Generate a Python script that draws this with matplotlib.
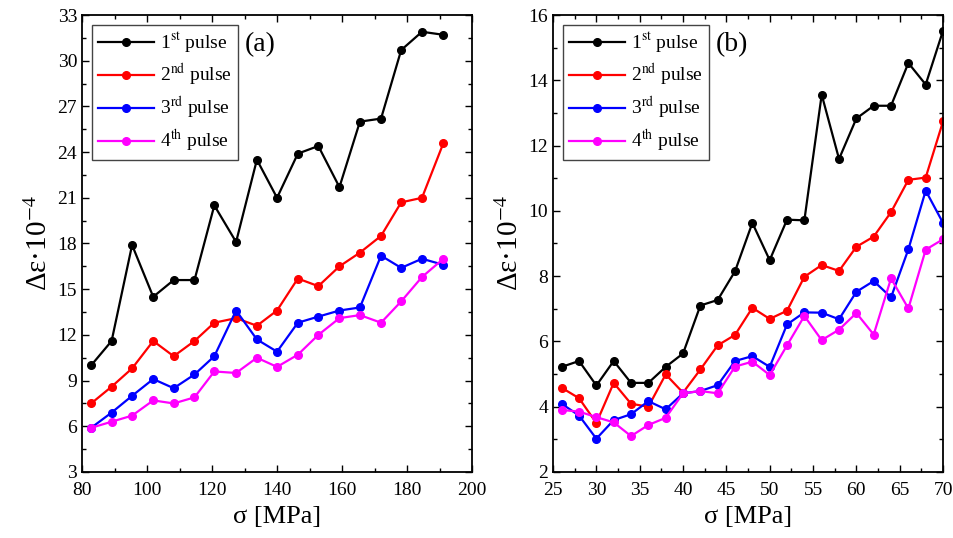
import matplotlib
matplotlib.use('Agg')
import matplotlib.pyplot as plt
from matplotlib.ticker import MultipleLocator
from matplotlib import rcParams

rcParams['font.family'] = 'Liberation Serif'
rcParams['mathtext.fontset'] = 'stix'
rcParams['font.size'] = 14

# panel (a)
sigma_a = [82.8, 89.1, 95.4, 101.9, 108.2, 114.6, 120.7, 127.4, 133.8, 140.0,
           146.4, 152.7, 159.2, 165.5, 172.0, 178.2, 184.6, 191.2]
p1_a = [10.0, 11.6, 17.9, 14.5, 15.6, 15.6, 20.5, 18.1, 23.5, 21.0,
        23.9, 24.4, 21.7, 26.0, 26.2, 30.7, 31.9, 31.7]
p2_a = [7.5, 8.6, 9.8, 11.6, 10.6, 11.6, 12.8, 13.1, 12.6, 13.6,
        15.7, 15.2, 16.5, 17.4, 18.5, 20.7, 21.0, 24.6]
p3_a = [5.9, 6.9, 8.0, 9.1, 8.5, 9.4, 10.6, 13.6, 11.7, 10.9,
        12.8, 13.2, 13.6, 13.8, 17.2, 16.4, 17.0, 16.6]
p4_a = [5.9, 6.3, 6.7, 7.7, 7.5, 7.9, 9.6, 9.5, 10.5, 9.9,
        10.7, 12.0, 13.1, 13.3, 12.8, 14.2, 15.8, 17.0]

# panel (b)
sigma_b = [26, 28, 30, 32, 34, 36, 38, 40, 42, 44, 46, 48,
           50, 52, 54, 56, 58, 60, 62, 64, 66, 68, 70]
p1_b = [5.22, 5.4, 4.65, 5.4, 4.73, 4.73, 5.22, 5.63, 7.1, 7.27, 8.15, 9.63,
        8.49, 9.73, 9.71, 13.56, 11.59, 12.83, 13.22, 13.22, 14.53, 13.87, 15.52]
p2_b = [4.58, 4.26, 3.5, 4.73, 4.09, 4.0, 4.99, 4.43, 5.14, 5.88, 6.2, 7.03,
        6.69, 6.94, 7.98, 8.34, 8.16, 8.9, 9.21, 9.96, 10.95, 11.02, 12.74]
p3_b = [4.09, 3.73, 3.02, 3.59, 3.77, 4.17, 3.92, 4.41, 4.48, 4.66, 5.4, 5.55,
        5.22, 6.52, 6.89, 6.88, 6.68, 7.52, 7.85, 7.35, 8.82, 10.62, 9.63]
p4_b = [3.9, 3.85, 3.68, 3.52, 3.1, 3.44, 3.66, 4.41, 4.48, 4.41, 5.23, 5.38,
        4.97, 5.88, 6.78, 6.04, 6.36, 6.87, 6.21, 7.93, 7.01, 8.81, 9.13]

labels = [r'1$^{\mathrm{st}}$ pulse', r'2$^{\mathrm{nd}}$ pulse',
          r'3$^{\mathrm{rd}}$ pulse', r'4$^{\mathrm{th}}$ pulse']
colors = ['black', 'red', 'blue', 'magenta']

fig = plt.figure(figsize=(9.54, 5.38), dpi=100)
ax1 = fig.add_axes([0.086, 0.1227, 0.4088, 0.8494])
ax2 = fig.add_axes([0.5797, 0.1227, 0.4088, 0.8494])

panels = [
    (ax1, sigma_a, [p1_a, p2_a, p3_a, p4_a], (80, 200), (3, 33), 20, 3, '(a)'),
    (ax2, sigma_b, [p1_b, p2_b, p3_b, p4_b], (25, 70), (2, 16), 5, 2, '(b)'),
]

for ax, x, series, xl, yl, xmaj, ymaj, tag in panels:
    for y, c, lab in zip(series, colors, labels):
        ax.plot(x, y, color=c, marker='o', markersize=5.5, linewidth=1.6, label=lab)
    ax.set_xlim(*xl)
    ax.set_ylim(*yl)
    ax.xaxis.set_major_locator(MultipleLocator(xmaj))
    ax.xaxis.set_minor_locator(MultipleLocator(xmaj / 2))
    ax.yaxis.set_major_locator(MultipleLocator(ymaj))
    ax.yaxis.set_minor_locator(MultipleLocator(ymaj / 2))
    ax.tick_params(which='both', direction='in', top=True, right=True, width=1.0)
    ax.tick_params(which='major', length=5, labelsize=14)
    ax.tick_params(axis='x', which='major', pad=7)
    ax.tick_params(which='minor', length=3)
    for s in ax.spines.values():
        s.set_linewidth(1.3)
    ax.set_xlabel('σ [MPa]', fontsize=19, labelpad=5)
    ax.set_ylabel(r'Δε·10$^{-4}$', fontsize=21, labelpad=3)
    leg = ax.legend(loc='upper left', fontsize=14, fancybox=False, framealpha=1,
                    edgecolor='#444444', handlelength=2.9, handletextpad=0.3,
                    borderaxespad=0.5, labelspacing=0.35, borderpad=0.3)
    leg.get_frame().set_linewidth(1.0)
    ax.annotate(tag, xy=(1, 1), xycoords=leg, xytext=(5, -5),
                textcoords='offset points', ha='left', va='top', fontsize=20)

fig.savefig('out.png', dpi=100)
